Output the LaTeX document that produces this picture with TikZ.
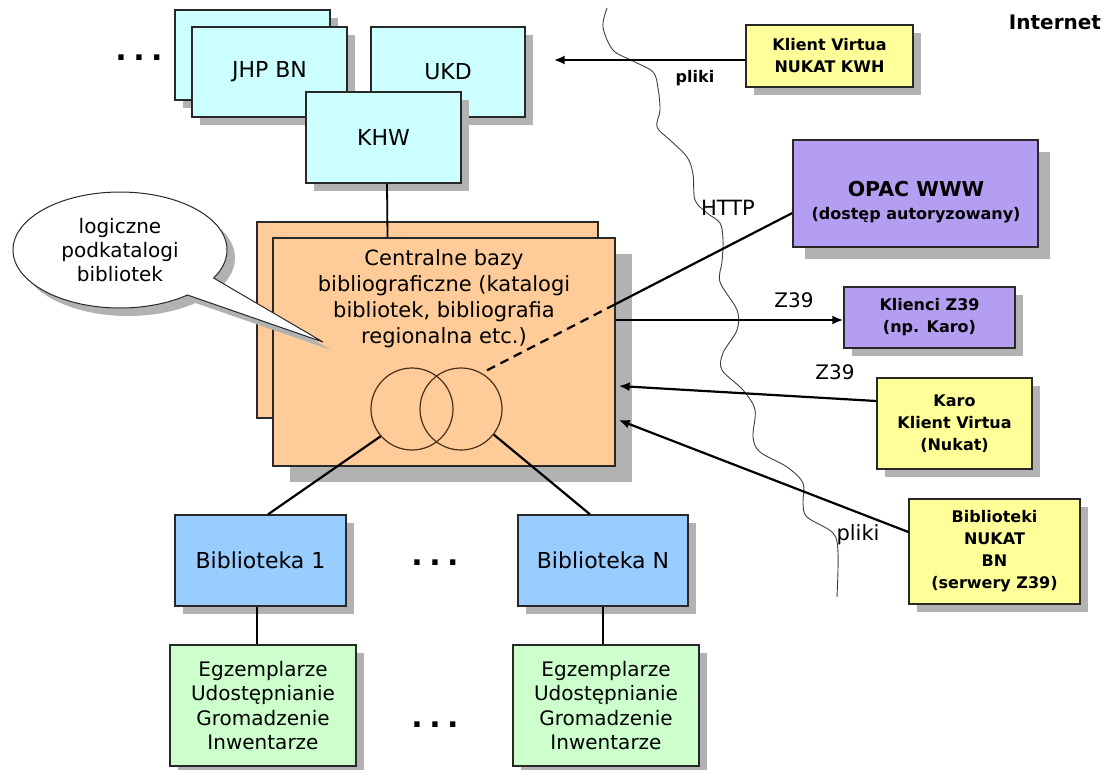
\documentclass[tikz,border=0pt]{standalone}
\usepackage{fontspec}
\setmainfont{DejaVu Sans}
\usetikzlibrary{shadows,shapes.callouts,arrows.meta,calc}
\definecolor{cyanf}{HTML}{CCFFFF}
\definecolor{orangef}{HTML}{FFCC99}
\definecolor{lavf}{RGB}{180,158,242}
\definecolor{yellowf}{HTML}{FFFF99}
\definecolor{bluef}{HTML}{99CCFF}
\definecolor{greenf}{HTML}{CCFFCC}
\definecolor{shgray}{RGB}{178,178,178}
\definecolor{boxline}{RGB}{40,40,40}
\definecolor{circl}{RGB}{70,48,28}
\tikzset{
  sh8/.style={drop shadow={shadow xshift=8pt,shadow yshift=-8pt,fill=shgray,opacity=1}},
  sh12/.style={drop shadow={shadow xshift=12pt,shadow yshift=-12pt,fill=shgray,opacity=1}},
  sh17/.style={drop shadow={shadow xshift=17pt,shadow yshift=-16pt,fill=shgray,opacity=1}},
  bx/.style={draw=boxline, line width=1.3pt, inner sep=0pt, align=center, rectangle},
  reg/.style={font=\fontsize{21}{26}\selectfont, align=center},
  cyf/.style={font=\fontsize{22}{26}\selectfont, align=center},
  bibf/.style={font=\fontsize{22}{26}\selectfont, align=center},
  grf/.style={font=\fontsize{20}{24.5}\selectfont, align=center},
  bld/.style={font=\fontsize{16}{22}\selectfont\bfseries, align=center},
  lbl/.style={font=\fontsize{20}{24}\selectfont, inner sep=0pt},
  dotsn/.style={font=\fontsize{30}{30}\selectfont\bfseries, inner sep=0pt},
  conn/.style={line width=2.2pt, draw=black},
  arr/.style={conn, -{Latex[length=11pt,width=9pt]}},
}
\begin{document}
\begin{tikzpicture}[x=1pt,y=-1pt]
\path[use as bounding box, fill=white] (0,0) rectangle (1108,769);

% top cyan boxes
\node[bx, sh8, fill=cyanf, minimum width=155pt, minimum height=90pt] (jhpb) at (252.5,55) {};
\node[bx, sh8, fill=cyanf, minimum width=155pt, minimum height=90pt, cyf] (jhp) at (269.5,72) {JHP BN};
\node[bx, sh8, fill=cyanf, minimum width=154pt, minimum height=90pt, cyf] (ukd) at (448,72) {UKD};
\node[bx, sh8, fill=cyanf, minimum width=155pt, minimum height=91pt, cyf] (khw) at (383.5,137.5) {KHW};
\node[dotsn] (d1) at (139,58) {.\hspace{6.5pt}.\hspace{6.5pt}.};

% wavy border
\draw[line width=0.9pt, black!75] plot[smooth, tension=0.55] coordinates {
 (607,8) (603,27) (613,50) (633,61) (653,72) (658,88) (660,110) (657,127)
 (670,140) (687,157) (693,174) (695,200) (707,213) (720,223) (723,240) (722,262)
 (720,282) (737,310) (737,330) (723,353) (722,370) (743,390) (755,410) (753,437)
 (760,452) (787,467) (803,483) (803,503) (807,517) (833,533) (838,553) (837,597)};

% central databases
\node[bx, fill=orangef, minimum width=341pt, minimum height=196pt] (orb) at (427.5,320) {};
\node[bx, sh17, fill=orangef, minimum width=342pt, minimum height=228pt] (orf) at (444,352) {};
\node[reg, inner sep=0pt] (cbt) at (444,299) {Centralne bazy\\bibliograficzne (katalogi\\bibliotek, bibliografia\\regionalna etc.)};
\node[circle, draw=circl, line width=1.2pt, minimum size=82pt, inner sep=0pt] (c1) at (412,409) {};
\node[circle, draw=circl, line width=1.2pt, minimum size=82pt, inner sep=0pt] (c2) at (461,409) {};

% bubble
\node[ellipse callout, draw=boxline, line width=1pt, fill=white, sh8,
      callout absolute pointer={(323,342)}, callout pointer arc=22,
      minimum width=214pt, minimum height=116pt, inner sep=0pt,
      font=\fontsize{20}{24}\selectfont, align=center] (bub) at (120,250)
      {logiczne\\podkatalogi\\bibliotek};

\draw[line width=1.8pt] ($(khw.south)+(3.5,0)$) -- ($(orf.north)+(-56.5,0)$);

% libraries
\node[bx, sh8, fill=bluef, minimum width=171pt, minimum height=91pt, bibf] (b1) at (260.5,560.5) {Biblioteka 1};
\node[bx, sh8, fill=bluef, minimum width=170pt, minimum height=91pt, bibf] (bN) at (603,560.5) {Biblioteka N};
\node[bx, sh8, fill=greenf, minimum width=186pt, minimum height=121pt, grf] (g1) at (263,705.5) {Egzemplarze\\Udostępnianie\\Gromadzenie\\Inwentarze};
\node[bx, sh8, fill=greenf, minimum width=186pt, minimum height=121pt, grf] (gN) at (606,705.5) {Egzemplarze\\Udostępnianie\\Gromadzenie\\Inwentarze};
\node[dotsn] (d2) at (435,563) {.\hspace{6.5pt}.\hspace{6.5pt}.};
\node[dotsn] (d3) at (435,725) {.\hspace{6.5pt}.\hspace{6.5pt}.};

\draw[conn] (c1.221) -- ($(b1.north)+(7.5,0)$);
\draw[conn] (c2.-38) -- ($(bN.north)+(-13,0)$);
\draw[line width=1.8pt] ($(b1.south)+(-3.5,0)$) -- ($(g1.north)+(-6,0)$);
\draw[line width=1.8pt] (bN.south) -- ($(gN.north)+(-3,0)$);

% right side
\node[font=\fontsize{20}{20}\selectfont\bfseries, inner sep=0pt] (inet) at (1055,22) {Internet};
\node[bx, sh8, fill=yellowf, minimum width=167pt, minimum height=62pt, bld] (kv) at (829.5,56) {Klient Virtua\\NUKAT KWH};
\node[bx, sh12, fill=lavf, minimum width=245pt, minimum height=107pt] (opac) at (915.5,193.5) {};
\node[font=\fontsize{20.5}{25}\selectfont\bfseries, inner sep=0pt] (opact1) at (916,189) {OPAC WWW};
\node[font=\fontsize{16}{20}\selectfont\bfseries, inner sep=0pt] (opact2) at (916,215) {(dostęp autoryzowany)};
\node[bx, sh8, fill=lavf, minimum width=171pt, minimum height=61pt, bld] (kz) at (929.5,317.5) {Klienci Z39\\(np. Karo)};
\node[bx, sh8, fill=yellowf, minimum width=155pt, minimum height=91pt, bld] (karo) at (954.5,423.5) {Karo\\Klient Virtua\\(Nukat)};
\node[bx, sh8, fill=yellowf, minimum width=171pt, minimum height=105pt, bld] (bibl) at (994.5,551.5) {Biblioteki\\NUKAT\\BN\\(serwery Z39)};

\coordinate (kvtip) at ($(ukd.east)+(28,-12)$);
\draw[arr] ($(kv.west)+(0,4)$) -- (kvtip);
\node[font=\fontsize{16}{18}\selectfont\bfseries, inner sep=0pt] (pl1) at (695,78) {pliki};

\coordinate (cut) at ($(c2.60)!0.429!($(opac.west)+(0,19.5)$)$);
\draw[conn] ($(opac.west)+(0,19.5)$) -- (cut);
\draw[conn, dash pattern=on 9pt off 6pt] (cut) -- (c2.60);
\node[lbl, font=\fontsize{21}{24}\selectfont] (http) at (728,208) {HTTP};

\draw[arr] ($(orf.east)+(0,-32)$) -- ($(kz.west)+(0,2.5)$);
\node[lbl] (z1) at (794,300) {Z39};
\draw[arr] ($(karo.west)+(0,-22.5)$) -- ($(orf.east)+(3,34)$);
\node[lbl] (z2) at (835,372) {Z39};
\draw[arr] ($(bibl.west)+(0,-19.5)$) -- ($(orf.east)+(3,68)$);
\node[lbl, font=\fontsize{21}{24}\selectfont] (pl2) at (858,535) {pliki};
\end{tikzpicture}
\end{document}
